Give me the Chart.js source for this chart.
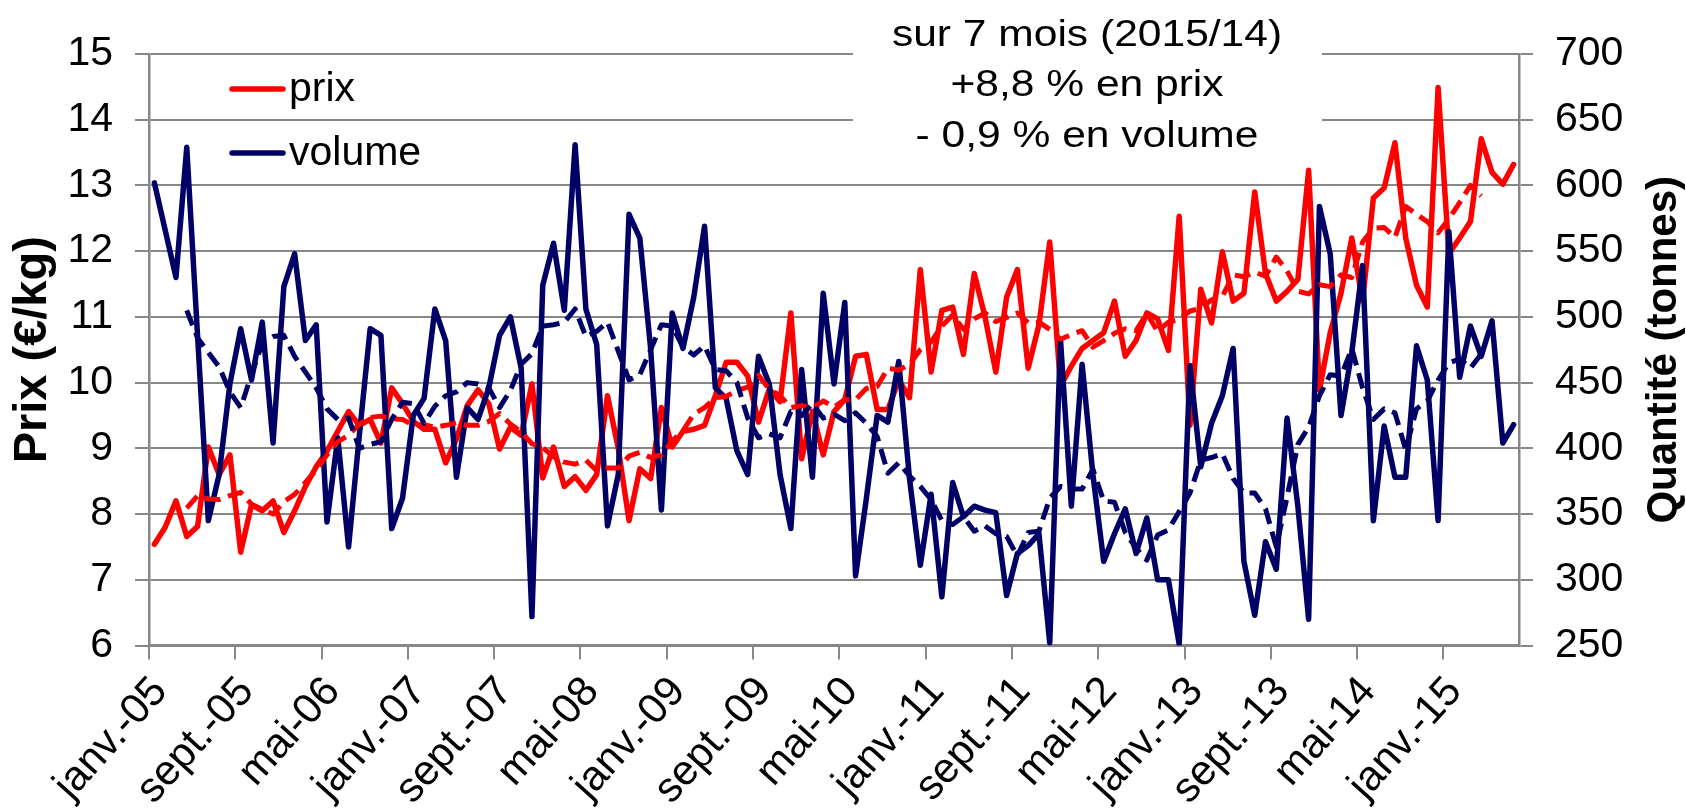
<!DOCTYPE html>
<html>
<head>
<meta charset="utf-8">
<script src="https://cdn.jsdelivr.net/npm/chart.js@4.4.1/dist/chart.umd.min.js"></script>
<style>
html, body { margin: 0; padding: 0; background: #ffffff; }
#wrap { position: relative; width: 1686px; height: 810px; }
</style>
</head>
<body>
<div id="wrap"><canvas id="c" width="1686" height="810"></canvas></div>
<script>
// ---- Category labels (monthly, janv. 2005 -> juil. 2015) ----
const monthNames = ['janv.', 'févr.', 'mars', 'avr.', 'mai', 'juin', 'juil.', 'août', 'sept.', 'oct.', 'nov.', 'déc.'];
const years = ['05', '06', '07', '08', '09', '10', '11', '12', '13', '14', '15'];
const monthCount = 127;
const categories = [];
for (let y = 0; y < years.length; y++) {
  for (let m = 0; m < 12; m++) {
    if (categories.length < monthCount) categories.push(monthNames[m] + '-' + years[y]);
  }
}
const tickEvery = 8;

// ---- Series ----
const seriesNames = ['prix', 'volume'];

// prix (€/kg), left axis
const prix = [
  7.54, 7.8, 8.2, 7.66, 7.81, 9.02, 8.6, 8.9, 7.42, 8.14,
  8.05, 8.2, 7.72, 8.05, 8.42, 8.72, 8.96, 9.26, 9.56, 9.35,
  9.44, 9.08, 9.92, 9.68, 9.41, 9.29, 9.29, 8.78, 9.14, 9.65,
  9.89, 9.68, 8.99, 9.32, 9.2, 9.98, 8.55, 9.02, 8.42, 8.57,
  8.36, 8.6, 9.8, 9.0, 7.9, 8.69, 8.54, 9.62, 9.02, 9.26,
  9.29, 9.35, 9.8, 10.31, 10.31, 10.1, 9.4, 9.9, 9.71, 11.06,
  8.84, 9.56, 8.9, 9.56, 9.74, 10.4, 10.43, 9.59, 9.59, 10.04,
  9.77, 11.72, 10.16, 11.1, 11.15, 10.43, 11.66, 11.0, 10.16, 11.3,
  11.72, 10.22, 10.88, 12.14, 9.95, 10.25, 10.52, 10.64, 10.76, 11.24,
  10.4, 10.64, 11.06, 10.97, 10.49, 12.53, 9.35, 11.42, 10.91, 11.99,
  11.24, 11.36, 12.9, 11.66, 11.24, 11.39, 11.57, 13.23, 9.89, 10.76,
  11.36, 12.2, 11.24, 12.81, 12.96, 13.65, 12.2, 11.48, 11.15, 14.49,
  11.96, 12.2, 12.45, 13.71, 13.2, 13.02, 13.32
];

// volume (tonnes), right axis
const volume = [
  602, 566, 530, 629, 486, 345, 380, 449, 491, 452,
  496, 404, 523, 548, 482, 494, 344, 408, 325, 410,
  491, 486, 339, 362, 425, 438, 506, 482, 378, 431,
  422, 446, 486, 500, 461, 272, 524, 556, 505, 631,
  506, 479, 341, 380, 578, 560, 476, 353, 503, 476,
  515, 569, 446, 438, 398, 380, 470, 449, 380, 339,
  460, 378, 518, 449, 511, 303, 362, 425, 420, 466,
  377, 311, 365, 287, 374, 348, 356, 353, 351, 288,
  320, 326, 335, 252, 482, 356, 464, 380, 314, 335,
  354, 320, 347, 300, 300, 251, 463, 386, 419, 440,
  476, 314, 273, 329, 308, 423, 356, 270, 584, 548,
  425, 473, 539, 345, 417, 378, 378, 478, 452, 345,
  565, 454, 493, 470, 497, 404, 418
];

// dashed curves (7-month smoothed lines as drawn in the picture)
const prixMoyenne = [
  null, null, null, 8.09, 8.28, 8.23, 8.22, 8.28, 8.33, 8.15,
  8.07, 8.0, 8.19, 8.30, 8.48, 8.67, 8.90, 9.10, 9.20, 9.37,
  9.47, 9.49, 9.45, 9.44, 9.35, 9.36, 9.32, 9.35, 9.39, 9.35,
  9.35, 9.41, 9.53, 9.37, 9.25, 9.07, 9.01, 8.87, 8.79, 8.76,
  8.82, 8.66, 8.70, 8.70, 8.88, 8.94, 8.86, 8.90, 9.11, 9.27,
  9.52, 9.62, 9.77, 9.79, 9.88, 9.93, 10.11, 9.90, 9.80, 9.62,
  9.65, 9.62, 9.72, 9.63, 9.74, 9.74, 9.91, 9.94, 10.22, 10.19,
  10.28, 10.50, 10.62, 10.86, 11.03, 10.81, 10.97, 11.06, 10.93, 10.99,
  11.06, 10.91, 10.92, 10.81, 10.66, 10.73, 10.79, 10.54, 10.64, 10.75,
  10.82, 10.79, 11.05, 10.78, 10.92, 10.96, 11.09, 11.13, 11.26, 11.31,
  11.64, 11.61, 11.68, 11.62, 11.91, 11.70, 11.39, 11.35, 11.49, 11.46,
  11.64, 11.60, 12.14, 12.35, 12.36, 12.21, 12.68, 12.56, 12.45, 12.28,
  12.49, 12.74, 13.00, 12.84, null, null, null
];

const volumeMoyenne = [
  null, null, null, 505, 484, 473, 462, 443, 431, 456,
  480, 485, 486, 470, 458, 446, 430, 422, 423, 400,
  403, 405, 422, 435, 434, 419, 432, 440, 443, 450,
  449, 446, 431, 444, 464, 472, 493, 494, 496, 506,
  485, 489, 496, 474, 452, 456, 475, 494, 493, 477,
  471, 478, 460, 459, 450, 423, 408, 411, 408, 428,
  425, 434, 423, 426, 421, 427, 419, 409, 381, 389,
  379, 371, 361, 345, 342, 348, 337, 341, 335, 333,
  318, 336, 337, 362, 371, 369, 369, 384, 360, 359,
  336, 324, 315, 334, 338, 352, 366, 391, 393, 396,
  377, 366, 366, 354, 325, 363, 403, 416, 440, 456,
  455, 476, 446, 422, 430, 427, 399, 430, 436, 452,
  465, 468, 461, 472, null, null, null
];

// axis definitions
const prixAxis = { min: 6, max: 15, step: 1, title: 'Prix (€/kg)' };
const volumeAxis = { min: 250, max: 700, step: 50, title: 'Quantité (tonnes)' };
const annotationLines = ['sur 7 mois (2015/14)', '+8,8 % en prix', '- 0,9 % en volume'];

// ---- styles ----
const FONT = "'Liberation Sans', Arial, Helvetica, sans-serif";
const GRID = '#878787';
const RED = '#ff0000';
const BLUE = '#000066';

Chart.defaults.font.family = FONT;
Chart.defaults.color = '#000000';

const annotationPlugin = {
  id: 'annotationBox',
  beforeDatasetsDraw(chart) {
    const ctx = chart.ctx;
    ctx.save();
    ctx.fillStyle = '#ffffff';
    ctx.fillRect(853, 0, 469, 160);
    ctx.fillStyle = '#000000';
    ctx.font = '37px ' + FONT;
    ctx.textAlign = 'center';
    ctx.textBaseline = 'alphabetic';
    const baselines = [46, 96, 147];
    annotationLines.forEach((t, k) => {
      ctx.save();
      ctx.translate(1087, baselines[k]);
      ctx.scale(1.15, 1);
      ctx.fillText(t, 0, 0);
      ctx.restore();
    });
    ctx.restore();
  }
};

const legendPlugin = {
  id: 'insideLegend',
  afterDatasetsDraw(chart) {
    const ctx = chart.ctx;
    const ds = chart.data.datasets;
    const rows = [
      { text: ds[0].label, color: ds[0].borderColor, y: 89 },
      { text: ds[1].label, color: ds[1].borderColor, y: 153 }
    ];
    ctx.save();
    rows.forEach(r => {
      ctx.beginPath();
      ctx.strokeStyle = r.color;
      ctx.lineWidth = 5.5;
      ctx.lineCap = 'round';
      ctx.moveTo(232, r.y);
      ctx.lineTo(283, r.y);
      ctx.stroke();
      ctx.fillStyle = '#000000';
      ctx.font = '41px ' + FONT;
      ctx.textAlign = 'left';
      ctx.textBaseline = 'alphabetic';
      ctx.fillText(r.text, 289, r.y + 12);
    });
    ctx.restore();
  }
};

const rightTitlePlugin = {
  id: 'rightTitle',
  afterDraw(chart) {
    const ctx = chart.ctx;
    const area = chart.chartArea;
    ctx.save();
    ctx.translate(1664, (area.top + area.bottom) / 2);
    ctx.rotate(-Math.PI / 2);
    ctx.fillStyle = '#000000';
    ctx.font = 'bold 42px ' + FONT;
    ctx.textAlign = 'center';
    ctx.textBaseline = 'middle';
    ctx.fillText(volumeAxis.title, 0, 0);
    ctx.restore();
  }
};

const lineBase = { pointRadius: 0, pointHoverRadius: 0, tension: 0, borderJoinStyle: 'round', borderCapStyle: 'round', fill: false };

new Chart(document.getElementById('c'), {
  type: 'line',
  data: {
    labels: categories,
    datasets: [
      Object.assign({}, lineBase, { label: seriesNames[0], data: prix, borderColor: RED, borderWidth: 5.5, yAxisID: 'y', order: 4 }),
      Object.assign({}, lineBase, { label: seriesNames[1], data: volume, borderColor: BLUE, borderWidth: 5.5, yAxisID: 'y1', order: 3 }),
      Object.assign({}, lineBase, { label: seriesNames[0] + ' (7 mois)', data: prixMoyenne, borderColor: RED, borderWidth: 5, borderDash: [16, 8], borderCapStyle: 'butt', yAxisID: 'y', order: 2 }),
      Object.assign({}, lineBase, { label: seriesNames[1] + ' (7 mois)', data: volumeMoyenne, borderColor: BLUE, borderWidth: 5, borderDash: [16, 8], borderCapStyle: 'butt', yAxisID: 'y1', order: 1 })
    ]
  },
  options: {
    responsive: false,
    animation: false,
    devicePixelRatio: 1,
    layout: { padding: { top: 54, left: 0, right: 0, bottom: 0 } },
    plugins: { legend: { display: false }, tooltip: { enabled: false }, title: { display: false } },
    scales: {
      x: {
        type: 'category',
        offset: true,
        grid: {
          offset: true,
          drawOnChartArea: false,
          drawTicks: true,
          tickLength: 14,
          lineWidth: 2,
          color: (c) => (c.index % tickEvery === 0 ? GRID : 'rgba(0,0,0,0)')
        },
        border: { display: true, color: GRID, width: 2.5 },
        ticks: {
          autoSkip: false,
          minRotation: 48,
          maxRotation: 48,
          padding: 8,
          labelOffset: 6,
          color: '#000000',
          font: { size: 42, family: FONT },
          callback: function (value, index) { return index % tickEvery === 0 ? this.getLabelForValue(value) : ''; }
        },
        afterFit: (s) => { s.height = 164.5; }
      },
      y: {
        position: 'left',
        min: prixAxis.min,
        max: prixAxis.max,
        grid: { color: GRID, lineWidth: 2, tickLength: 14, drawTicks: true },
        border: { display: true, color: GRID, width: 2.5 },
        ticks: { stepSize: prixAxis.step, padding: 22, color: '#000000', font: { size: 41, family: FONT } },
        title: { display: true, text: prixAxis.title, color: '#000000', font: { size: 47, weight: 'bold', family: FONT }, padding: { top: 5, bottom: 0 } },
        afterFit: (s) => { s.width = 149; }
      },
      y1: {
        position: 'right',
        min: volumeAxis.min,
        max: volumeAxis.max,
        grid: { drawOnChartArea: false, color: GRID, lineWidth: 2, tickLength: 14, drawTicks: true },
        border: { display: true, color: GRID, width: 2.5 },
        ticks: { stepSize: volumeAxis.step, padding: 22, color: '#000000', font: { size: 41, family: FONT } },
        afterFit: (s) => { s.width = 167; }
      }
    }
  },
  plugins: [annotationPlugin, legendPlugin, rightTitlePlugin]
});
</script>
</body>
</html>
